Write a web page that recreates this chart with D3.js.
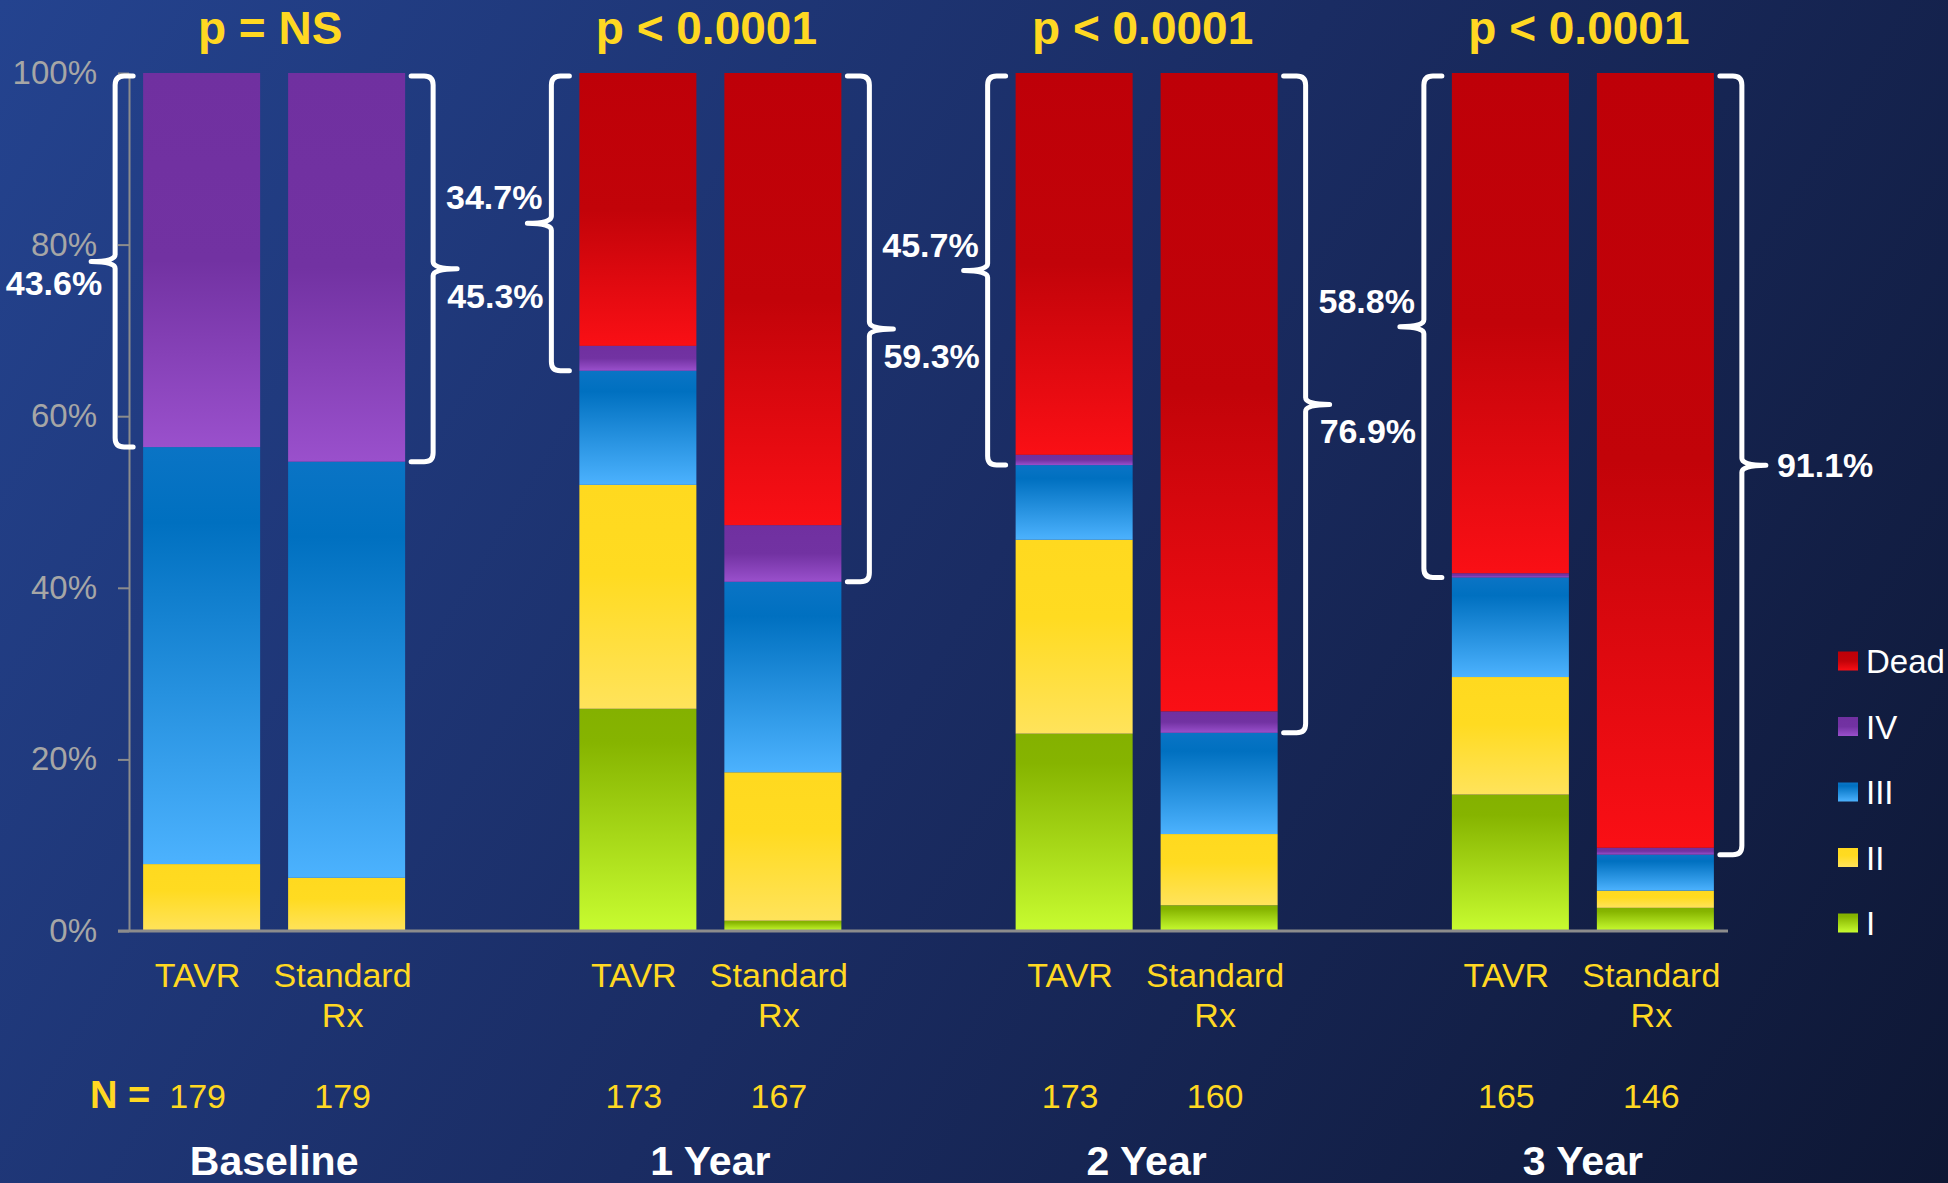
<!DOCTYPE html>
<html>
<head>
<meta charset="utf-8">
<script src="https://cdn.jsdelivr.net/npm/d3@7"></script>
<style>
  html, body { margin: 0; padding: 0; background: #1a2b60; }
  svg { display: block; }
  text { font-family: "Liberation Sans", Arial, Helvetica, sans-serif; }
</style>
</head>
<body>
<svg id="chart" width="1948" height="1183"></svg>
<script>
// ---- data -------------------------------------------------------------
const periods = ['Baseline', '1 Year', '2 Year', '3 Year'];
const arms = ['TAVR', 'Standard Rx'];
const pValues = ['p = NS', 'p < 0.0001', 'p < 0.0001', 'p < 0.0001'];
const nTAVR = [179, 173, 173, 165];
const nStandard = [179, 167, 160, 146];
const classes = ['I', 'II', 'III', 'IV', 'Dead'];
const yTicks = [0, 20, 40, 60, 80, 100];

// NYHA class distribution (%), order per period: TAVR, Standard Rx
const classI    = [0.0, 0.0, 25.9,  1.2, 23.0,  3.0, 15.9,  2.7];
const classII   = [7.8, 6.2, 26.1, 17.3, 22.6,  8.3, 13.7,  2.0];
const classIII  = [48.6, 48.5, 13.3, 22.2, 8.7, 11.8, 11.6,  4.2];
const classIV   = [43.6, 45.3, 2.9,  6.6,  1.2,  2.5,  0.5,  0.8];
const classDead = [0.0, 0.0, 31.8, 52.7, 44.5, 74.4, 58.3, 90.3];

// ---- table built from the arrays ---------------------------------------
const seriesByClass = { I: classI, II: classII, III: classIII, IV: classIV, Dead: classDead };
const rows = [];
periods.forEach((p, i) => {
  arms.forEach((a, j) => {
    const k = i * 2 + j;
    const r = { period: p, arm: a, n: j === 0 ? nTAVR[i] : nStandard[i] };
    classes.forEach(c => { r[c] = seriesByClass[c][k]; });
    rows.push(r);
  });
});

// ---- layout -----------------------------------------------------------
const W = 1948, H = 1183;
const plot = { left: 129, right: 1728, top: 73, bottom: 931 };
const svg = d3.select('#chart');
const FONT = '"Liberation Sans", Arial, Helvetica, sans-serif';
const YELLOW = '#FFD822';

// background
const defs = svg.append('defs');
const bg = defs.append('linearGradient').attr('id', 'bg')
  .attr('gradientUnits', 'userSpaceOnUse')
  .attr('x1', 0).attr('y1', 0).attr('x2', W).attr('y2', H);
bg.append('stop').attr('offset', 0).attr('stop-color', '#24438F');
bg.append('stop').attr('offset', 0.5).attr('stop-color', '#1A2C63');
bg.append('stop').attr('offset', 1).attr('stop-color', '#0E1734');
svg.append('rect').attr('width', W).attr('height', H).attr('fill', 'url(#bg)');

// segment gradients
const gradStops = {
  Dead: [[0, '#BE0008'], [0.5, '#C20309'], [1, '#FA0F15']],
  IV:   [[0, '#7030A0'], [0.5, '#7232A2'], [1, '#9A50CC']],
  III:  [[0, '#0A74C5'], [0.18, '#0070C0'], [1, '#4CB2FE']],
  II:   [[0, '#FFD91F'], [0.4, '#FFDB21'], [1, '#FFE35B']],
  I:    [[0, '#84B100'], [0.15, '#86B400'], [1, '#C8FC30']]
};
classes.forEach(c => {
  const g = defs.append('linearGradient').attr('id', 'g-' + c)
    .attr('x1', 0).attr('y1', 0).attr('x2', 0).attr('y2', 1);
  gradStops[c].forEach(s => g.append('stop').attr('offset', s[0]).attr('stop-color', s[1]));
});

// scales
const y = d3.scaleLinear().domain([0, 100]).range([plot.bottom, plot.top]);
const xGroup = d3.scaleBand().domain(periods).range([plot.left - 73, plot.right + 73]).padding(0);
const xArm = d3.scaleBand().domain(arms).range([-131, 131]).paddingInner(0.193).paddingOuter(0);
const groupCenter = p => xGroup(p) + xGroup.bandwidth() / 2;
const barX = d => groupCenter(d.period) + xArm(d.arm);
const barW = xArm.bandwidth();

// y axis
const yAxis = svg.append('g')
  .attr('transform', `translate(${plot.left},0)`)
  .call(d3.axisLeft(y).tickValues(yTicks).tickFormat(d => d + '%')
    .tickSize(11).tickSizeOuter(0).tickPadding(21));
yAxis.select('.domain').attr('stroke', '#8C8C8C').attr('stroke-width', 2);
yAxis.selectAll('.tick line').attr('stroke', '#8C8C8C').attr('stroke-width', 2);
yAxis.selectAll('.tick text').attr('fill', '#A6A6A6').style('font-size', '33px').style('font-family', FONT);

// stacked bars
const stack = d3.stack().keys(classes);
const stacked = stack(rows);
svg.append('g').selectAll('g').data(stacked).join('g')
  .attr('fill', s => `url(#g-${s.key})`)
  .selectAll('rect').data(s => s).join('rect')
  .attr('x', d => barX(d.data))
  .attr('width', barW)
  .attr('y', d => y(d[1]))
  .attr('height', d => Math.max(0, y(d[0]) - y(d[1])));

// x axis baseline
svg.append('line')
  .attr('x1', plot.left - 11).attr('x2', plot.right)
  .attr('y1', y(0)).attr('y2', y(0))
  .attr('stroke', '#8C8C8C').attr('stroke-width', 3);

// braces marking class IV or dead
const labelPlace = {
  TAVR: ['below', 'above', 'above', 'above'],
  'Standard Rx': ['below', 'below', 'below', 'beside']
};
const fmt = d3.format('.1f');
const braceG = svg.append('g');
rows.forEach(d => {
  const share = d.IV + d.Dead;
  const top = y(100) + 3;
  const bot = y(100 - share);
  const mid = (top + bot) / 2;
  const left = d.arm === 'TAVR';
  const dir = left ? -1 : 1;
  const edge = left ? barX(d) : barX(d) + barW;
  const armEnd = edge + dir * (left ? 10 : 6);
  const vx = edge + dir * 28;
  const tip = vx + dir * 24;
  const r = 9;
  const path = [
    `M${armEnd},${top}`,
    `L${vx - dir * r},${top}`,
    `Q${vx},${top} ${vx},${top + r}`,
    `L${vx},${mid - 7}`,
    `Q${vx},${mid} ${tip},${mid}`,
    `Q${vx},${mid} ${vx},${mid + 7}`,
    `L${vx},${bot - r}`,
    `Q${vx},${bot} ${vx - dir * r},${bot}`,
    `L${armEnd},${bot}`
  ].join(' ');
  braceG.append('path').attr('d', path)
    .attr('fill', 'none').attr('stroke', '#FFFFFF')
    .attr('stroke-width', 5).attr('stroke-linecap', 'round').attr('stroke-linejoin', 'round');

  const place = labelPlace[d.arm][periods.indexOf(d.period)];
  let lx, ly, anchor;
  if (left) {
    anchor = 'end';
    if (place === 'above') { lx = tip + 15; ly = mid - 14; }
    else { lx = tip + 11; ly = mid + 33; }
  } else {
    anchor = 'start';
    if (place === 'below') { lx = tip - 10; ly = mid + 39; }
    else { lx = tip + 11; ly = mid + 12; }
  }
  braceG.append('text').attr('x', lx).attr('y', ly)
    .attr('text-anchor', anchor)
    .attr('fill', '#FFFFFF').attr('font-weight', 'bold').style('font-size', '34px')
    .text(fmt(share) + '%');
});

// p-values above each period
svg.append('g').selectAll('text').data(periods).join('text')
  .attr('x', p => groupCenter(p) - 4).attr('y', 44)
  .attr('text-anchor', 'middle').attr('fill', YELLOW)
  .attr('font-weight', 'bold').style('font-size', '46px')
  .text((p, i) => pValues[i]);

// arm labels
const armG = svg.append('g');
rows.forEach(d => {
  const cx = barX(d) + barW / 2 - 4;
  const t = armG.append('text').attr('x', cx).attr('y', 987)
    .attr('text-anchor', 'middle').attr('fill', YELLOW).style('font-size', '34px');
  d.arm.split(' ').forEach((w, i) => {
    t.append('tspan').attr('x', cx).attr('dy', i === 0 ? 0 : 40).text(w);
  });
});

// patient counts
svg.append('text').attr('x', 90).attr('y', 1108)
  .attr('fill', YELLOW).attr('font-weight', 'bold').style('font-size', '38px')
  .text('N =');
svg.append('g').selectAll('text').data(rows).join('text')
  .attr('x', d => barX(d) + barW / 2 - 4).attr('y', 1108)
  .attr('text-anchor', 'middle').attr('fill', YELLOW).style('font-size', '34px')
  .text(d => d.n);

// period names
svg.append('g').selectAll('text').data(periods).join('text')
  .attr('x', p => groupCenter(p)).attr('y', 1175)
  .attr('text-anchor', 'middle').attr('fill', '#FFFFFF')
  .attr('font-weight', 'bold').style('font-size', '41px')
  .text(p => p);

// legend
const legendOrder = classes.slice().reverse();
const lg = svg.append('g').selectAll('g').data(legendOrder).join('g')
  .attr('transform', (c, i) => `translate(1838,${661 + i * 65.5})`);
lg.append('rect').attr('x', 0).attr('y', -9.5).attr('width', 20).attr('height', 19)
  .attr('fill', c => `url(#g-${c})`);
lg.append('text').attr('x', 28).attr('y', 12)
  .attr('fill', '#FFFFFF').style('font-size', '33px')
  .text(c => c);
</script>
</body>
</html>
